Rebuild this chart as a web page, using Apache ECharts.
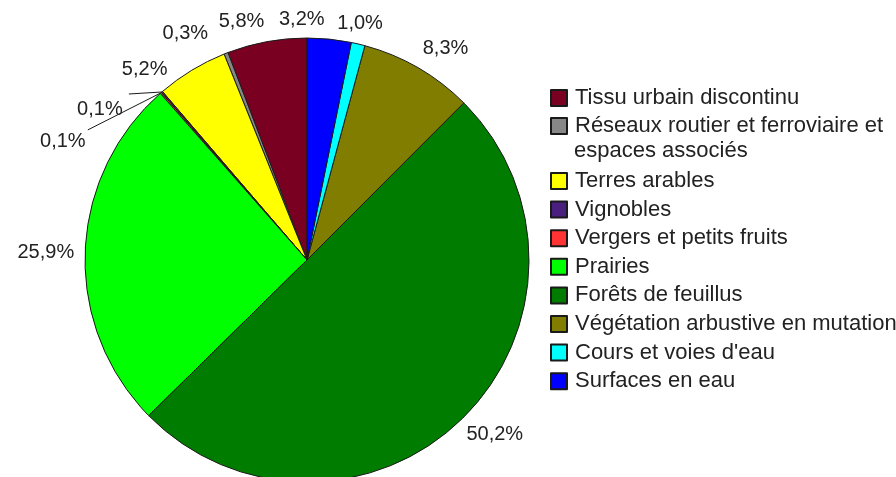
<!DOCTYPE html>
<html>
<head>
<meta charset="utf-8">
<script src="https://cdn.jsdelivr.net/npm/echarts@6/dist/echarts.min.js"></script>
<style>
  html, body { margin: 0; padding: 0; background: #fff; }
  #main { width: 896px; height: 477px; }
</style>
</head>
<body>
<div id="main"></div>
<script>
(function () {
    'use strict';

    // occupation du sol, ordre de la légende
    var categories = [
        'Tissu urbain discontinu',
        'Réseaux routier et ferroviaire et espaces associés',
        'Terres arables',
        'Vignobles',
        'Vergers et petits fruits',
        'Prairies',
        'Forêts de feuillus',
        'Végétation arbustive en mutation',
        "Cours et voies d'eau",
        'Surfaces en eau'
    ];
    var percents = [5.8, 0.3, 5.2, 0.1, 0.1, 25.9, 50.2, 8.3, 1.0, 3.2];
    var colors = ['#7A0022', '#878787', '#FFFF00', '#4A1F7D', '#FF3333',
        '#00FF00', '#007D00', '#807D00', '#00FFFF', '#0000FF'];

    var FONT = 'Liberation Sans, Arial, sans-serif';
    var TEXT = '#222';
    var CX = 307, CY = 260, R = 222, GAP = 12;

    // décalages des étiquettes (placement type tableur)
    var nudge = [[-19, 1], [-28, 1], [-29, 18], [0, 0], [0, 0], [1, 1], [3, 1], [10, 0], [-6, 1], [-31, 2]];
    // étiquettes avec trait de rappel : [dx trait, dy trait, dx texte, dy texte]
    var leader = {
        3: [-33, 2, -29, 15],
        4: [-73, 37, -25, 12]
    };

    var total = percents.reduce(function (s, v) { return s + v; }, 0);
    var midAngle = [];
    var acc = 0;
    percents.forEach(function (v) {
        midAngle.push((acc + v / 2) / total * Math.PI * 2);
        acc += v;
    });

    var data = categories.map(function (name, i) {
        var item = { name: name, value: percents[i], itemStyle: { color: colors[i] } };
        if (leader[i]) {
            item.labelLine = { show: true };
        }
        return item;
    });

    var chart = echarts.init(document.getElementById('main'), null, { renderer: 'canvas' });

    var legendText = {
        fontFamily: FONT,
        fontSize: 22,
        color: TEXT,
        lineHeight: 22,
        padding: [0, 0, 0, 3]
    };

    chart.setOption({
        animation: false,
        backgroundColor: '#fff',
        legend: [{
            orient: 'vertical',
            left: 550,
            top: 87,
            padding: 0,
            itemWidth: 16,
            itemHeight: 16,
            itemGap: 6,
            icon: 'rect',
            selectedMode: false,
            data: categories.slice(0, 2),
            formatter: function (name) {
                return name === categories[1] ? 'Réseaux routier et ferroviaire et' : name;
            },
            textStyle: legendText
        }, {
            orient: 'vertical',
            left: 550,
            top: 170,
            padding: 0,
            itemWidth: 16,
            itemHeight: 16,
            itemGap: 6.6,
            icon: 'rect',
            selectedMode: false,
            data: categories.slice(2),
            textStyle: legendText
        }],
        graphic: [{
            type: 'text',
            x: 574,
            y: 151,
            style: {
                text: 'espaces associés',
                font: '22px ' + FONT,
                fill: TEXT,
                verticalAlign: 'middle'
            }
        }],
        series: [{
            type: 'pie',
            center: [CX, CY],
            radius: R,
            startAngle: 90,
            clockwise: false,
            avoidLabelOverlap: false,
            emphasis: { disabled: true },
            itemStyle: { borderColor: '#1a1a1a', borderWidth: 1 },
            label: {
                show: true,
                position: 'outside',
                fontFamily: FONT,
                fontSize: 20,
                color: TEXT,
                formatter: function (p) {
                    return p.value.toFixed(1).replace('.', ',') + '%';
                }
            },
            labelLine: { show: false, lineStyle: { color: '#1a1a1a', width: 1 } },
            labelLayout: function (p) {
                var i = p.dataIndex;
                var dx = -Math.sin(midAngle[i]);
                var dy = -Math.cos(midAngle[i]);
                var ex = CX + R * dx, ey = CY + R * dy;
                if (leader[i]) {
                    var l = leader[i];
                    var lx = ex + l[0], ly = ey + l[1];
                    return {
                        x: lx + l[2], y: ly + l[3],
                        align: 'center', verticalAlign: 'middle',
                        labelLinePoints: [[ex, ey], [lx, ly], [lx, ly]]
                    };
                }
                var w = p.labelRect.width, h = 20;
                return {
                    x: ex + dx * GAP + dx * w / 2 + nudge[i][0],
                    y: ey + dy * GAP + dy * h / 2 + nudge[i][1],
                    align: 'center', verticalAlign: 'middle'
                };
            },
            data: data
        }]
    });

    window.onresize = function () {
        chart && chart.resize();
    };
})();
</script>
</body>
</html>
